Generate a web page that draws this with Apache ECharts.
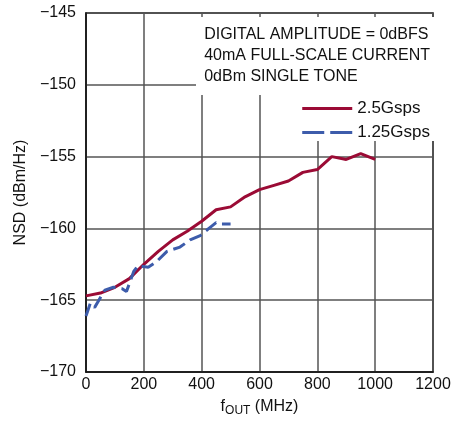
<!DOCTYPE html>
<html><head><meta charset="utf-8">
<script src="https://cdn.jsdelivr.net/npm/echarts@6/dist/echarts.min.js"></script>
<style>html,body{margin:0;padding:0;background:#fff}#c{width:472px;height:421px}</style>
</head><body><div id="c"></div>
<script>
const seriesNames = ['2.5Gsps', '1.25Gsps'];
const f25 = [0, 50, 100, 150, 200, 250, 300, 350, 400, 450, 500, 550, 600, 650, 700, 750, 800, 850, 900, 950, 1000];
const nsd25 = [-164.7, -164.5, -164.1, -163.5, -162.5, -161.6, -160.8, -160.2, -159.5, -158.7, -158.5, -157.8, -157.3, -157.0, -156.7, -156.1, -155.9, -155.0, -155.2, -154.8, -155.2];
const f125 = [0, 15, 30, 65, 95, 125, 140, 165, 180, 215, 245, 280, 325, 360, 395, 425, 450, 465, 500];
const nsd125 = [-166.1, -165.2, -165.5, -164.3, -164.1, -164.2, -164.4, -163.0, -162.6, -162.7, -162.3, -161.6, -161.3, -160.8, -160.5, -160.0, -159.6, -159.7, -159.7];
const noteLines = ['DIGITAL AMPLITUDE = 0dBFS', '40mA FULL-SCALE CURRENT', '0dBm SINGLE TONE'];
const xTicks = {min: 0, max: 1200, interval: 200};
const yTicks = {min: -170, max: -145, interval: 5};

const FONT = "'Liberation Sans', Arial, sans-serif";
const chart = echarts.init(document.getElementById('c'));
const zip = (a, b) => a.map((v, i) => [v, b[i]]);
chart.setOption({
  animation: false,
  textStyle: {fontFamily: FONT},
  grid: {left: 86, top: 13, right: 39, bottom: 49, show: true, borderColor: '#111', borderWidth: 1.5, outerBoundsMode: 'none', containLabel: false},
  xAxis: {
    type: 'value', min: xTicks.min, max: xTicks.max, interval: xTicks.interval,
    axisLine: {lineStyle: {color: '#111', width: 1.5}},
    axisTick: {show: false},
    axisLabel: {color: '#111', fontSize: 16, fontFamily: FONT, margin: 5, formatter: v => String(v)},
    splitLine: {lineStyle: {color: '#555', width: 1.5}},
    name: '{a|f}{b|OUT}{a| (MHz)}', nameLocation: 'middle', nameGap: 25,
    nameTextStyle: {rich: {a: {fontSize: 16, fontFamily: FONT, color: '#111'}, b: {fontSize: 12, fontFamily: FONT, color: '#111', padding: [8, 0, 0, 0]}}}
  },
  yAxis: {
    type: 'value', min: yTicks.min, max: yTicks.max, interval: yTicks.interval,
    axisLine: {lineStyle: {color: '#111', width: 1.5}},
    axisTick: {show: false},
    axisLabel: {color: '#111', fontSize: 16, fontFamily: FONT, margin: 10, formatter: v => String(v).replace('-', '\u2212')},
    splitLine: {lineStyle: {color: '#555', width: 1.5}},
    name: 'NSD (dBm/Hz)', nameLocation: 'middle', nameGap: 52,
    nameTextStyle: {fontSize: 16, fontFamily: FONT, color: '#111'}
  },
  legend: {
    orient: 'vertical', right: 37, top: 95, itemWidth: 50, itemHeight: 14, itemGap: 7,
    textStyle: {fontSize: 17, fontFamily: FONT, color: '#111'},
    itemStyle: {opacity: 0},
    lineStyle: {width: 3},
    data: [
      {name: seriesNames[0]},
      {name: seriesNames[1], lineStyle: {width: 3, type: [22, 6]}}
    ], z: 6
  },
  graphic: [
    {type: 'rect', left: 196, top: 17, shape: {width: 238, height: 78}, style: {fill: '#fff'}, z: 3},
    {type: 'rect', left: 292, top: 95, shape: {width: 142, height: 46}, style: {fill: '#fff'}, z: 3},
    {type: 'text', right: 42, top: 24, z: 5, style: {text: noteLines.join('\n'), fill: '#111', font: '16px ' + FONT, lineHeight: 21, textAlign: 'left'}}
  ],
  series: [
    {name: seriesNames[0], type: 'line', data: zip(f25, nsd25), showSymbol: false, symbol: 'none', color: '#9b0b35', lineStyle: {width: 3, color: '#9b0b35'}, z: 2},
    {name: seriesNames[1], type: 'line', data: zip(f125, nsd125), showSymbol: false, symbol: 'none', color: '#3d5cab', lineStyle: {width: 3, color: '#3d5cab', type: [13, 6]}, z: 2}
  ]
});
</script></body></html>
